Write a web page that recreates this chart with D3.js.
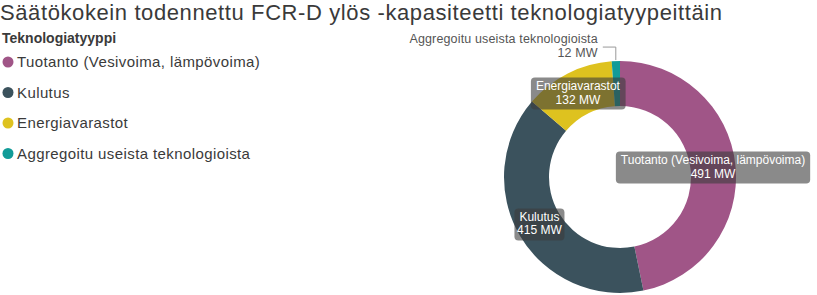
<!DOCTYPE html>
<html>
<head>
<meta charset="utf-8">
<script src="https://cdn.jsdelivr.net/npm/d3@7"></script>
<style>
  body { margin: 0; background: #fff; }
  svg text { font-family: "Liberation Sans", Arial, sans-serif; }
</style>
</head>
<body>
<div id="chart"></div>
<script>
// chart data
const categories = ['Tuotanto (Vesivoima, lämpövoima)', 'Kulutus', 'Energiavarastot', 'Aggregoitu useista teknologioista'];
const values = [491, 415, 132, 12];
const colors = ['#a05587', '#3b525d', '#dec21f', '#129b98'];
const unit = 'MW';
const title = 'Säätökokein todennettu FCR-D ylös -kapasiteetti teknologiatyypeittäin';
const legendTitle = 'Teknologiatyyppi';

const width = 817, height = 295;
const cx = 620, cy = 177;
const outerR = 116, innerR = 71;

const svg = d3.select('#chart').append('svg')
    .attr('width', width)
    .attr('height', height);

// title
svg.append('text')
    .attr('x', 0)
    .attr('y', 20)
    .style('font-size', '22px')
    .style('letter-spacing', '0.6px')
    .style('fill', '#3a3a3a')
    .text(title);

// legend
const legend = svg.append('g').attr('transform', 'translate(2,0)');
legend.append('text')
    .attr('x', 0)
    .attr('y', 43)
    .style('font-size', '14px')
    .style('font-weight', 'bold')
    .style('fill', '#3a3a3a')
    .text(legendTitle);

const items = legend.selectAll('g.item')
    .data(categories)
    .enter().append('g')
    .attr('class', 'item')
    .attr('transform', (d, i) => `translate(0,${62 + i * 30.5})`);

items.append('circle')
    .attr('cx', 6)
    .attr('cy', 0)
    .attr('r', 5.5)
    .style('fill', (d, i) => colors[i]);

items.append('text')
    .attr('x', 15)
    .attr('y', 0)
    .attr('dy', '0.35em')
    .style('font-size', '15px')
    .style('letter-spacing', '0.4px')
    .style('fill', '#3a3a3a')
    .text(d => d);

// donut
const pie = d3.pie().sort(null).value(d => d);
const arcs = pie(values);
const arc = d3.arc().innerRadius(innerR).outerRadius(outerR);
const midArc = d3.arc().innerRadius((innerR + outerR) / 2).outerRadius((innerR + outerR) / 2);

const g = svg.append('g').attr('transform', `translate(${cx},${cy})`);

g.selectAll('path')
    .data(arcs)
    .enter().append('path')
    .attr('d', arc)
    .style('fill', (d, i) => colors[i]);

// inside labels (big slices)
const inside = arcs.filter(d => d.data >= 50);
const lab = g.selectAll('g.lab')
    .data(inside)
    .enter().append('g')
    .attr('class', 'lab')
    .attr('transform', d => {
        const [x, y] = midArc.centroid(d);
        return `translate(${x},${y})`;
    });

lab.each(function (d) {
    const sel = d3.select(this);
    const line1 = sel.append('text')
        .attr('text-anchor', 'middle')
        .attr('y', -3.5)
        .style('font-size', '12px')
        .style('fill', '#fff')
        .text(categories[d.index]);
    sel.append('text')
        .attr('text-anchor', 'middle')
        .attr('y', 10)
        .style('font-size', '12px')
        .style('fill', '#fff')
        .text(`${d.data} ${unit}`);
    const bb = line1.node().getBBox();
    sel.insert('rect', 'text')
        .attr('x', bb.x - 5)
        .attr('y', -16)
        .attr('width', bb.width + 10)
        .attr('height', 32)
        .attr('rx', 4)
        .style('fill', 'rgba(60,60,60,0.6)');
});

// outside label (small slice)
const outside = arcs.filter(d => d.data < 50);
outside.forEach(d => {
    const mid = (d.startAngle + d.endAngle) / 2;
    const px = Math.sin(mid) * (outerR + 1);
    const py = -Math.cos(mid) * (outerR + 1);
    const ly = py - 13;
    const lx = px - 13;
    g.append('polyline')
        .attr('points', [px, py, px, ly, lx, ly].join(','))
        .style('fill', 'none')
        .style('stroke', '#999')
        .style('stroke-width', 1);
    const t = g.append('text')
        .attr('text-anchor', 'end')
        .style('font-size', '12.5px')
        .style('letter-spacing', '0.15px')
        .style('fill', '#555');
    t.append('tspan').attr('x', lx - 5).attr('y', ly - 4).text(categories[d.index]);
    t.append('tspan').attr('x', lx - 5).attr('y', ly + 10).text(`${d.data} ${unit}`);
});
</script>
</body>
</html>
